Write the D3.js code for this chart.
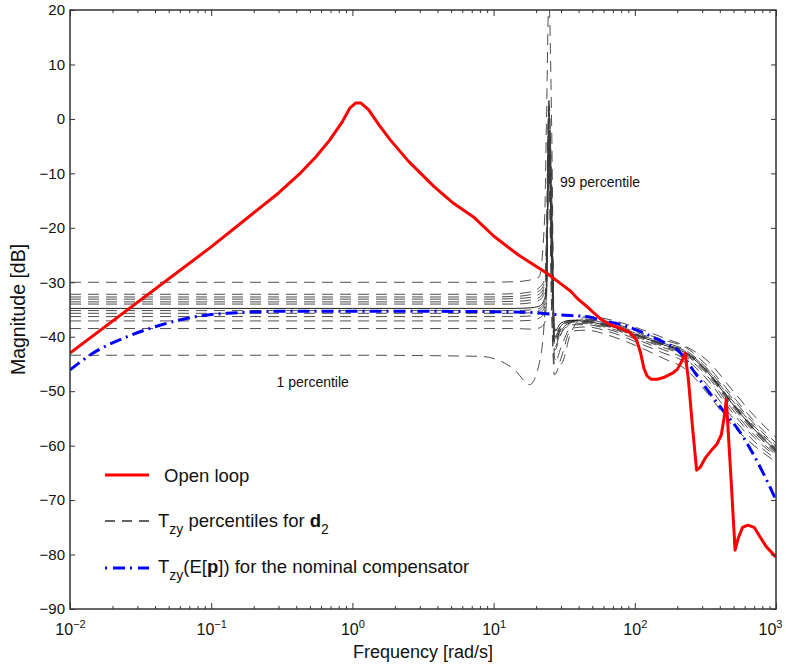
<!DOCTYPE html>
<html>
<head>
<meta charset="utf-8">
<script src="https://cdn.jsdelivr.net/npm/d3@7"></script>
<style>
  body { margin: 0; background: #fff; }
  text { font-family: "Liberation Sans", Arial, Helvetica, sans-serif; fill: #111; }
</style>
</head>
<body>
<div id="chart"></div>
<script>
// Data
var xDecades = [1e-2, 1e-1, 1e0, 1e1, 1e2, 1e3];
var xExponents = ["−2", "−1", "0", "1", "2", "3"];
var yTicks = [20, 10, 0, -10, -20, -30, -40, -50, -60, -70, -80, -90];

// open loop (red)
var openLoopFreq = [0.01, 0.1, 0.3, 0.43, 0.55, 0.69, 0.85, 0.96, 1.05, 1.15, 1.3, 1.55, 1.86, 2.5, 3.77, 5.2, 7.2, 10, 15, 24, 30, 35, 40, 46, 57, 67, 80, 92, 103, 110, 116, 122, 130, 145, 160, 185, 200, 215, 227, 240, 255, 274, 290, 315, 345, 380, 410, 428, 445, 465, 485, 513, 540, 580, 632, 700, 760, 850, 1000];
var openLoopDb = [-43, -23.5, -13.6, -9.9, -7, -3.9, -0.5, 2.0, 2.9, 2.9, 1.7, -1.2, -3.9, -7.8, -12.4, -15.5, -18, -21.5, -25, -28.4, -30.3, -31.6, -33.2, -34.5, -36.7, -37.8, -38.5, -39.2, -40.6, -43, -45.8, -47.2, -47.8, -47.8, -47.5, -46.7, -46, -44.5, -43, -48, -56, -64.5, -64, -62.3, -61, -59.8, -58, -55, -51.5, -60, -68, -79.2, -77, -75, -74.6, -75, -76.5, -78.5, -80.5];

// nominal compensator (blue dash-dot)
var nominalFreq = [0.01, 0.0146, 0.0254, 0.0434, 0.0743, 0.129, 0.38, 1, 10, 20, 24, 30, 48, 57, 78, 92, 130, 160, 200, 285, 420, 555, 810, 1000];
var nominalDb = [-46.1, -43, -40, -37.9, -36.4, -35.7, -35.3, -35.3, -35.4, -35.6, -35.8, -36, -36.4, -37, -37.7, -38.3, -39.9, -41, -42.4, -47.7, -53.5, -57.5, -65, -70];

// percentile curves (shared frequency grid)
var pctFreq = [0.01, 1, 8, 14, 18, 21, 23, 23.7, 24.6, 25.8, 27, 30, 35, 45, 70, 110, 160, 230, 330, 480, 700, 1000];
var pct99 = [-30, -30, -30, -29.9, -29.6, -29, -18, 0, 22, -2, -44, -45, -39.5, -36.2, -37, -38.6, -40.2, -41.8, -44.5, -49.5, -54.5, -58.5];
var pct95 = [-32.2, -32.2, -32.2, -32.1, -31.8, -31, -29.5, -20, 4, -14, -40, -39.5, -37.5, -36.5, -37.5, -39.2, -40.6, -42, -45.5, -50.5, -55.5, -59.5];
var pct90 = [-32.7, -32.7, -32.7, -32.6, -32.3, -31.6, -30, -24, 1, -12, -38.5, -39, -37.3, -36.8, -37.7, -39.5, -41, -42.5, -46, -51, -56, -60];
var pct80 = [-33.1, -33.1, -33.1, -33, -32.8, -32.2, -30.5, -28, -2, -20, -39.5, -38, -37, -36.9, -37.9, -39.7, -41.2, -42.7, -46.2, -51.4, -56.4, -60.3];
var pct70 = [-33.6, -33.6, -33.6, -33.5, -33.3, -32.8, -31, -29, 2, -17, -41, -38.5, -37.2, -37, -38, -39.8, -41.3, -42.8, -46.4, -51.7, -56.7, -60.6];
var pct60 = [-34, -34, -34, -34, -33.8, -33.3, -31.8, -30, -4, -24, -40, -38, -37, -37.1, -38.1, -39.9, -41.4, -42.9, -46.5, -51.9, -56.9, -60.8];
var pct50 = [-34.8, -34.8, -34.8, -34.8, -34.7, -34.4, -33, -31, -5, -27, -39, -37.5, -37, -37.2, -38.2, -40, -41.5, -43, -46.6, -52, -57, -61];
var pct40 = [-35.2, -35.2, -35.2, -35.2, -35.1, -34.8, -33.5, -31, -1, -25, -41.5, -38.5, -37.3, -37.3, -38.3, -40.1, -41.6, -43.2, -46.8, -52.2, -57.2, -61.2];
var pct30 = [-35.7, -35.7, -35.7, -35.7, -35.6, -35.2, -34, -30, 3, -19, -40.5, -38, -37.2, -37.4, -38.4, -40.3, -41.8, -43.4, -47, -52.5, -57.5, -61.4];
var pct20 = [-36.3, -36.3, -36.3, -36.3, -36.2, -35.8, -34.5, -32, -3, -23, -42, -39, -37.5, -37.6, -38.6, -40.5, -42, -43.7, -47.4, -53, -58, -61.7];
var pct10 = [-37.1, -37.1, -37.1, -37.1, -37, -36.6, -35.5, -32, 0, -29, -42.5, -39.5, -37.8, -37.8, -38.9, -40.8, -42.4, -44.2, -48, -53.6, -58.5, -62];
var pct5 = [-38.5, -38.5, -38.5, -38.5, -38.6, -38.4, -37.5, -33, -8, -34, -45, -42, -38.5, -38.2, -39.3, -41.3, -43, -44.8, -49, -54.5, -59.2, -62.5];
var pct1 = [-43.4, -43.4, -43.6, -46, -48.8, -45, -36, -25, -10, -36, -47, -44, -39, -38.8, -40, -42, -44, -46, -50.5, -56, -60, -63];

// SVG
var svgWidth = 786, svgHeight = 668;
var margin = { top: 10, right: 10, bottom: 59, left: 70 };
var width = svgWidth - margin.left - margin.right;
var height = svgHeight - margin.top - margin.bottom;

var svg = d3.select("#chart").append("svg")
    .attr("width", svgWidth)
    .attr("height", svgHeight);

var x = d3.scaleLog().domain([1e-2, 1e3]).range([0, width]);
var y = d3.scaleLinear().domain([-90, 20]).range([height, 0]);

var g = svg.append("g")
    .attr("transform", "translate(" + margin.left + "," + margin.top + ")");

svg.append("defs").append("clipPath")
    .attr("id", "plotClip")
    .append("rect")
    .attr("width", width)
    .attr("height", height);

var plot = g.append("g").attr("clip-path", "url(#plotClip)");

var line = d3.line()
    .x(d => x(d[0]))
    .y(d => y(d[1]));

// Percentile curves
var pctSeries = [pct99, pct95, pct90, pct80, pct70, pct60, pct50, pct40, pct30, pct20, pct10, pct5, pct1];
pctSeries.forEach(function (vals) {
    var solid = vals === pct50;
    plot.append("path")
        .datum(pctFreq.map((f, i) => [f, vals[i]]))
        .attr("d", line.curve(d3.curveMonotoneX))
        .attr("fill", "none")
        .attr("stroke", solid ? "#222" : "#3a3a3a")
        .attr("stroke-width", solid ? 1 : 0.9)
        .attr("stroke-dasharray", solid ? null : "11,7");
});

// Nominal compensator
plot.append("path")
    .datum(nominalFreq.map((f, i) => [f, nominalDb[i]]))
    .attr("d", line.curve(d3.curveMonotoneX))
    .attr("fill", "none")
    .attr("stroke", "#0000ff")
    .attr("stroke-width", 3)
    .attr("stroke-dasharray", "12,5,2,5");

// Open loop
plot.append("path")
    .datum(openLoopFreq.map((f, i) => [f, openLoopDb[i]]))
    .attr("d", line.curve(d3.curveLinear))
    .attr("fill", "none")
    .attr("stroke", "#ff0000")
    .attr("stroke-width", 3)
    .attr("stroke-linejoin", "round");

// Axes
var minorTicks = x.ticks().filter(d => xDecades.indexOf(d) < 0);

var xAxis = g.append("g")
    .attr("transform", "translate(0," + height + ")")
    .call(d3.axisBottom(x).tickValues(xDecades).tickSize(-6).tickPadding(15).tickFormat(""));
g.append("g")
    .attr("transform", "translate(0," + height + ")")
    .call(d3.axisBottom(x).tickValues(minorTicks).tickSize(-3).tickFormat(""));
g.append("g")
    .call(d3.axisTop(x).tickValues(xDecades).tickSize(-6).tickFormat(""));
g.append("g")
    .call(d3.axisTop(x).tickValues(minorTicks).tickSize(-3).tickFormat(""));

g.selectAll(".domain").remove();
g.selectAll(".tick line").attr("stroke", "#333");

xAxis.selectAll(".tick text").each(function (d, i) {
    var t = d3.select(this)
        .attr("font-size", 16)
        .attr("dx", i === xDecades.length - 1 ? -6 : 0);
    t.append("tspan").text("10");
    t.append("tspan").attr("dy", -7).attr("font-size", 11).text(xExponents[i]);
});

var yAxis = g.append("g")
    .call(d3.axisLeft(y).tickValues(yTicks).tickSize(-5).tickPadding(5)
        .tickFormat(d => d < 0 ? "−" + Math.abs(d) : d));
yAxis.select(".domain").remove();
yAxis.selectAll(".tick line").attr("stroke", "#333");
yAxis.selectAll(".tick text").attr("font-size", 15);

g.append("g")
    .attr("transform", "translate(" + width + ",0)")
    .call(d3.axisRight(y).tickValues(yTicks).tickSize(-5).tickFormat(""))
    .call(s => s.select(".domain").remove())
    .call(s => s.selectAll(".tick line").attr("stroke", "#333"));

g.selectAll(".tick text")
    .attr("font-family", "Liberation Sans, Arial, sans-serif")
    .attr("fill", "#111");

g.append("rect")
    .attr("width", width)
    .attr("height", height)
    .attr("fill", "none")
    .attr("stroke", "#333")
    .attr("stroke-width", 1.5);

// Axis titles
svg.append("text")
    .attr("x", margin.left + width / 2)
    .attr("y", 658)
    .attr("text-anchor", "middle")
    .attr("font-size", 18)
    .text("Frequency [rad/s]");

svg.append("text")
    .attr("transform", "translate(25," + (margin.top + height / 2) + ") rotate(-90)")
    .attr("text-anchor", "middle")
    .attr("font-size", 19.5)
    .text("Magnitude [dB]");

// Annotations
g.append("text")
    .attr("x", x(29.5))
    .attr("y", y(-12.5))
    .attr("font-size", 14)
    .text("99 percentile");
g.append("text")
    .attr("x", x(0.29))
    .attr("y", y(-49.3))
    .attr("font-size", 14)
    .text("1 percentile");

// Legend
var legend = svg.append("g");
var legendRows = [
    { y: 475, stroke: "#ff0000", width: 3, dash: null },
    { y: 521, stroke: "#333", width: 1.5, dash: "10,7" },
    { y: 568, stroke: "#0000ff", width: 3, dash: "2,6,12,5" }
];
legendRows.forEach(function (r) {
    legend.append("line")
        .attr("x1", 105).attr("x2", 149)
        .attr("y1", r.y).attr("y2", r.y)
        .attr("stroke", r.stroke)
        .attr("stroke-width", r.width)
        .attr("stroke-dasharray", r.dash);
});

legend.append("text")
    .attr("x", 164).attr("y", 482)
    .attr("font-size", 18.5)
    .text("Open loop");

var t2 = legend.append("text")
    .attr("x", 158).attr("y", 527)
    .attr("font-size", 18.5);
t2.append("tspan").text("T");
t2.append("tspan").attr("dy", 7).attr("font-size", 14).text("zy");
t2.append("tspan").attr("dy", -7).text(" percentiles for ");
t2.append("tspan").attr("font-weight", "bold").text("d");
t2.append("tspan").attr("dy", 7).attr("font-size", 14).text("2");

var t3 = legend.append("text")
    .attr("x", 158).attr("y", 573)
    .attr("font-size", 18.5);
t3.append("tspan").text("T");
t3.append("tspan").attr("dy", 7).attr("font-size", 14).text("zy");
t3.append("tspan").attr("dy", -7).text("(E[");
t3.append("tspan").attr("font-weight", "bold").text("p");
t3.append("tspan").text("]) for the nominal compensator");
</script>
</body>
</html>
